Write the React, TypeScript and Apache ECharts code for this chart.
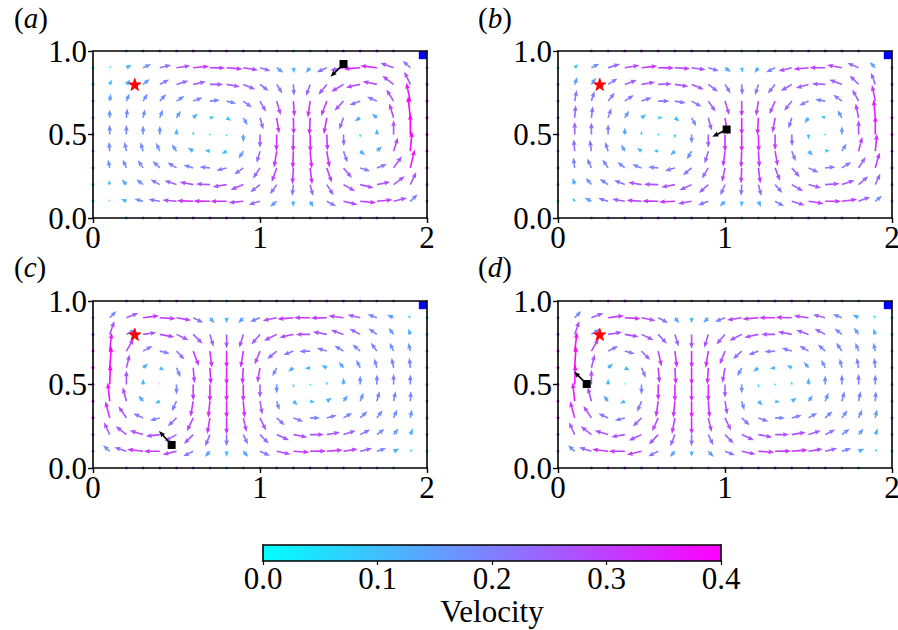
import React, { useEffect, useRef } from "react";
import * as echarts from "echarts";

const FONT = "'Liberation Serif', 'Times New Roman', serif";
const columns = [0.1, 0.2, 0.3, 0.4, 0.5, 0.6, 0.7, 0.8, 0.9, 1.0, 1.1, 1.2, 1.3, 1.4, 1.5, 1.6, 1.7, 1.8, 1.9];
const rowsY = [0.9, 0.8, 0.7, 0.6, 0.5, 0.4, 0.3, 0.2, 0.1];
const wallX = [0.2, 0.3, 0.4, 0.5, 0.6, 0.7, 0.8, 0.9, 1.0, 1.1, 1.2, 1.3, 1.4, 1.5, 1.6, 1.7, 1.8];

// Velocity components, in units of 1/155.
const READING_UNIT = 1 / 155;

const aU = [
  [6, 16, 24, 34, 42, 48, 46, 48, 44, 32, 20, 3, -13, -30, -40, -50, -50, -40, -23],
  [6, 12, 20, 28, 36, 38, 40, 40, 36, 26, 17, 2, -12, -25, -37, -43, -43, -34, -18],
  [3, 9, 14, 19, 24, 28, 30, 29, 26, 18, 12, 3, -7, -17, -27, -32, -30, -22, -12],
  [0, 3, 6, 9, 13, 14, 14, 14, 13, 10, 7, 1, -2, -9, -13, -17, -15, -13, -7],
  [0, 0, 0, 0, 0, 0, 0, 0, 0, 0, -1, -1, 1, 2, 1, 0, 0, 0, 0],
  [-2, -6, -8, -11, -14, -16, -16, -15, -14, -10, -8, -2, 5, 8, 12, 15, 15, 13, 5],
  [-5, -11, -16, -21, -27, -29, -31, -31, -27, -21, -15, -3, 6, 15, 25, 30, 30, 25, 13],
  [-3, -14, -20, -28, -36, -41, -42, -42, -38, -29, -20, -4, 9, 20, 35, 41, 40, 33, 18],
  [-4, -16, -26, -34, -42, -49, -49, -49, -44, -34, -20, -1, 10, 28, 42, 48, 47, 40, 22],
];
const aV = [
  [5, 9, 11, 8, 6, 4, -1, -4, -7, -10, -15, -17, -16, -14, -8, -4, 6, 14, 21],
  [15, 15, 16, 15, 11, 9, 0, -7, -15, -20, -27, -34, -35, -31, -22, -9, 9, 26, 39],
  [22, 23, 23, 21, 15, 11, 3, -7, -19, -32, -42, -47, -49, -45, -29, -12, 13, 35, 55],
  [25, 28, 26, 25, 21, 13, 3, -9, -22, -35, -47, -50, -52, -49, -35, -10, 13, 43, 65],
  [29, 29, 27, 26, 18, 10, 1, -7, -23, -40, -50, -52, -53, -49, -35, -10, 17, 43, 62],
  [28, 28, 27, 25, 21, 11, 3, -8, -22, -35, -49, -52, -52, -49, -34, -12, 15, 41, 60],
  [25, 25, 23, 21, 16, 9, 3, -8, -20, -32, -42, -49, -49, -44, -30, -10, 11, 35, 55],
  [14, 15, 16, 15, 12, 8, 2, -7, -16, -23, -29, -34, -34, -32, -20, -10, 8, 25, 38],
  [6, 7, 7, 6, 4, 2, 1, 0, -4, -10, -16, -17, -18, -15, -10, -4, 5, 10, 21],
];

const bU = [
  [10, 24, 36, 44, 48, 48, 46, 42, 32, 18, 3, -12, -27, -40, -45, -47, -45, -34, -17],
  [8, 14, 28, 36, 41, 41, 41, 37, 29, 17, 2, -10, -22, -33, -38, -40, -38, -27, -13],
  [6, 9, 20, 27, 31, 34, 33, 30, 22, 13, 0, -7, -17, -23, -28, -30, -26, -19, -10],
  [3, 4, 10, 13, 14, 14, 14, 14, 10, 8, 0, -3, -8, -10, -12, -13, -13, -9, -5],
  [0, 0, 0, 0, 0, 0, 0, 0, 0, 0, 0, 1, 0, 1, 0, 0, 0, 0, 0],
  [-3, -5, -9, -11, -13, -14, -14, -14, -11, -6, -2, 3, 8, 12, 13, 14, 14, 11, 5],
  [-4, -13, -17, -22, -28, -30, -30, -26, -19, -9, -2, 6, 15, 24, 30, 31, 28, 21, 13],
  [-6, -17, -25, -32, -40, -43, -41, -36, -28, -14, -2, 9, 22, 34, 38, 43, 38, 29, 15],
  [-6, -20, -30, -38, -45, -48, -48, -41, -31, -16, 0, 8, 27, 39, 46, 48, 46, 35, 20],
];
const bV = [
  [11, 12, 11, 7, 5, -1, -3, -6, -10, -13, -15, -16, -14, -10, -5, 0, 8, 14, 17],
  [22, 20, 18, 13, 7, 2, -6, -15, -22, -27, -32, -32, -27, -20, -11, 2, 14, 27, 35],
  [33, 30, 25, 18, 11, 0, -6, -17, -32, -42, -47, -45, -39, -29, -13, 5, 19, 35, 48],
  [38, 35, 29, 21, 11, 1, -10, -25, -38, -50, -52, -52, -45, -32, -16, 5, 23, 43, 55],
  [38, 36, 31, 21, 11, 1, -12, -27, -40, -52, -53, -52, -47, -35, -15, 2, 25, 43, 56],
  [36, 34, 28, 20, 10, 1, -12, -24, -37, -47, -50, -49, -45, -30, -14, 3, 23, 43, 52],
  [31, 28, 25, 18, 10, 3, -9, -22, -32, -42, -47, -47, -39, -28, -14, 3, 18, 33, 46],
  [20, 20, 17, 13, 7, 1, -8, -17, -25, -32, -34, -34, -25, -20, -10, 3, 13, 25, 33],
  [11, 11, 9, 7, 3, 1, -2, -7, -12, -15, -17, -17, -15, -12, -7, 0, 6, 13, 17],
];

const cU = [
  [20, 36, 48, 48, 44, 30, 14, 0, -15, -30, -42, -48, -48, -48, -45, -38, -28, -20, -8],
  [14, 28, 40, 44, 36, 28, 11, 0, -12, -26, -38, -42, -43, -42, -38, -32, -25, -15, -6],
  [6, 22, 28, 30, 24, 17, 6, 0, -8, -16, -28, -30, -32, -30, -27, -23, -18, -12, -6],
  [5, 10, 15, 14, 12, 4, 3, 0, -3, -8, -13, -16, -16, -16, -14, -12, -8, -6, -3],
  [2, 0, 0, 0, 0, 0, 0, 0, 0, 0, 0, 0, 0, 0, 0, 0, 0, 0, 0],
  [-6, -11, -14, -14, -14, -8, -5, 0, 4, 7, 8, 13, 15, 15, 13, 10, 8, 6, 2],
  [-13, -24, -29, -30, -26, -19, -8, 0, 10, 18, 24, 30, 30, 30, 26, 22, 17, 11, 5],
  [-17, -32, -40, -42, -36, -28, -14, 0, 14, 26, 37, 42, 42, 40, 37, 30, 23, 15, 8],
  [-20, -36, -48, -48, -42, -30, -15, 0, 15, 30, 42, 48, 48, 48, 43, 36, 28, 17, 7],
];
const cV = [
  [20, 14, 6, -3, -8, -15, -17, -17, -17, -12, -9, -4, 0, -1, 6, 9, 10, 9, 7],
  [40, 15, 6, -8, -17, -28, -37, -42, -40, -30, -19, -9, 0, 8, 13, 17, 18, 20, 18],
  [55, 38, 15, -7, -25, -45, -50, -52, -50, -40, -24, -12, -1, 9, 16, 20, 25, 25, 25],
  [65, 40, 13, -8, -28, -46, -50, -52, -50, -45, -25, -12, -2, 8, 18, 24, 28, 30, 30],
  [60, 42, 17, 6, -30, -48, -52, -52, -52, -40, -27, -10, 1, 10, 20, 27, 30, 32, 30],
  [56, 42, 17, -7, -30, -47, -50, -52, -50, -40, -27, -12, -3, 10, 18, 25, 30, 30, 30],
  [50, 35, 13, -8, -25, -40, -48, -50, -42, -38, -22, -11, 0, 8, 15, 20, 23, 25, 25],
  [37, 25, 12, -5, -20, -28, -35, -35, -30, -27, -17, -8, 0, 7, 12, 15, 17, 18, 18],
  [18, 12, 6, 0, -10, -15, -17, -17, -17, -13, -9, -3, 1, 4, 7, 9, 9, 8, 7],
];

const dU = [
  [20, 36, 48, 48, 42, 30, 13, 0, -15, -30, -44, -48, -48, -48, -44, -37, -27, -18, -7],
  [14, 26, 42, 42, 36, 26, 11, 0, -12, -26, -37, -42, -42, -42, -37, -32, -22, -14, -6],
  [7, 22, 30, 30, 26, 10, 6, 0, -8, -16, -26, -30, -32, -30, -27, -22, -17, -10, -6],
  [4, 10, 15, 15, 13, 4, 3, 0, -3, -8, -13, -16, -16, -15, -14, -12, -7, -6, -3],
  [2, 0, 0, 0, 0, 0, 0, 0, 0, 0, 0, 0, 0, 0, 0, 0, 0, 0, 0],
  [-6, -11, -14, -14, -13, -7, -5, 0, 4, 7, 8, 13, 15, 15, 13, 10, 8, 6, 2],
  [-14, -24, -29, -30, -26, -18, -9, 0, 10, 18, 24, 30, 30, 30, 26, 22, 17, 11, 5],
  [-17, -32, -40, -41, -38, -28, -14, 0, 15, 26, 37, 42, 42, 42, 37, 30, 23, 15, 8],
  [-20, -37, -48, -48, -44, -30, -15, 0, 16, 30, 42, 48, 48, 48, 43, 36, 28, 17, 7],
];
const dV = [
  [20, 14, 6, -3, -9, -16, -17, -17, -16, -12, -7, -4, 0, 1, 6, 9, 10, 9, 7],
  [40, 16, 7, -7, -17, -28, -36, -43, -40, -30, -19, -9, 0, 8, 13, 17, 18, 20, 18],
  [57, 38, 15, -8, -27, -46, -50, -52, -50, -40, -24, -12, -2, 9, 16, 20, 25, 25, 25],
  [65, 40, 13, -8, -30, -46, -50, -52, -50, -45, -25, -12, -2, 8, 18, 24, 28, 30, 30],
  [60, 44, 17, 6, -30, -48, -52, -52, -52, -40, -27, -10, 1, 10, 20, 27, 30, 32, 30],
  [56, 42, 17, -8, -32, -48, -50, -52, -50, -40, -27, -13, -3, 10, 18, 25, 30, 30, 30],
  [50, 36, 13, -8, -26, -40, -48, -50, -42, -38, -22, -11, 0, 8, 15, 20, 23, 25, 25],
  [37, 25, 12, -7, -18, -30, -35, -35, -32, -27, -17, -8, 0, 7, 12, 15, 17, 18, 18],
  [18, 12, 6, 0, -10, -15, -17, -17, -17, -12, -9, -3, 1, 4, 7, 9, 9, 8, 7],
];

const panelNames = ["a", "b", "c", "d"];
const panelU = [aU, bU, cU, dU];
const panelV = [aV, bV, cV, dV];
const tracerX = [1.5, 1.01, 0.471, 0.172];
const tracerY = [0.922, 0.53, 0.138, 0.503];
const tracerU = [-39, -43, -38, -38];
const tracerV = [-38, -22, 42, 37];
const starPoint = [0.25, 0.8];
const bluePoint = [1.975, 0.975];
const colorbarTicks = [0, 0.1, 0.2, 0.3, 0.4];
const xTicks = [0, 1, 2];
const yTicks = [0, 0.5, 1];

const gridBoxes = [
  { left: 93, top: 51 },
  { left: 558, top: 51 },
  { left: 93, top: 301 },
  { left: 558, top: 301 },
];
const labelBoxes = [
  { left: 9, top: -2 },
  { left: 473, top: -2 },
  { left: 9, top: 247 },
  { left: 473, top: 247 },
];
const STAR = "path://M50 0 L61.8 35 L98 35 L68.8 57 L79.5 92 L50 71 L20.5 92 L31.2 57 L2 35 L38.2 35 Z";
const TICK_FONT = 31;

const coolColor = (speed: number) => {
  const t = Math.max(0, Math.min(1, speed / 0.4));
  return `rgb(${Math.round(255 * t)},${Math.round(255 * (1 - t))},255)`;
};

const arrowPoints = (x: number, y: number, dx: number, dy: number, W: number) => {
  const L = Math.hypot(dx, dy);
  const hl0 = 3.8 * W;
  const k = L < hl0 ? L / hl0 : 1;
  const w = W * k;
  const hl = hl0 * k;
  const ha = 3.4 * W * k;
  const hw = 3 * W * k;
  const c = dx / (L || 1);
  const s = dy / (L || 1);
  const local = [
    [0, w / 2],
    [L - ha, w / 2],
    [L - hl, hw / 2],
    [L, 0],
    [L - hl, -hw / 2],
    [L - ha, -w / 2],
    [0, -w / 2],
  ];
  return local.map(([a, b]) => [x + a * c - b * s, y + a * s + b * c]);
};

const renderArrow = (_: any, api: any) => {
  const p = api.coord([api.value(0), api.value(1)]);
  const u = api.value(2);
  const v = api.value(3);
  const speed = Math.hypot(u, v) * READING_UNIT;
  const L = Math.hypot(u, v) / 3;
  if (L < 0.9) {
    return { type: "circle", shape: { cx: p[0], cy: p[1], r: 0.8 }, style: { fill: coolColor(speed) } };
  }
  return {
    type: "polygon",
    shape: { points: arrowPoints(p[0], p[1], u / 3, -v / 3, 1.6) },
    style: { fill: coolColor(speed) },
  };
};

const renderWallDot = (_: any, api: any) => {
  const p = api.coord([api.value(0), api.value(1)]);
  return {
    type: "circle",
    shape: { cx: p[0], cy: p[1], r: 1.5 },
    style: { fill: coolColor(api.value(2) * READING_UNIT) },
  };
};

const renderTracerArrow = (_: any, api: any) => {
  const p = api.coord([api.value(0), api.value(1)]);
  return {
    type: "polygon",
    shape: { points: arrowPoints(p[0], p[1], api.value(2) / 3, -api.value(3) / 3, 1.7) },
    style: { fill: "#000" },
  };
};

const renderColorbar = (_: any, api: any) => {
  const a = api.coord([api.value(0), 0]);
  const b = api.coord([api.value(1), 1]);
  return {
    type: "rect",
    shape: { x: a[0], y: b[1], width: b[0] - a[0], height: a[1] - b[1] },
    style: {
      fill: new echarts.graphic.LinearGradient(0, 0, 1, 0, [
        { offset: 0, color: coolColor(0) },
        { offset: 1, color: coolColor(0.4) },
      ]),
    },
  };
};

function buildOption() {
  const grid: any[] = [];
  const xAxis: any[] = [];
  const yAxis: any[] = [];
  const series: any[] = [];
  const title: any[] = [];
  const line = { show: true, onZero: false, lineStyle: { color: "#000", width: 1.6 } };
  const label = { color: "#000", fontFamily: FONT, fontSize: TICK_FONT };

  panelNames.forEach((name, i) => {
    grid.push({ left: gridBoxes[i].left, top: gridBoxes[i].top, width: 334, height: 167, outerBoundsMode: "none" });
    title.push({
      text: `{p|(}{i|${name}}{p|)}`,
      left: labelBoxes[i].left,
      top: labelBoxes[i].top,
      textStyle: {
        fontWeight: "normal",
        rich: {
          p: { fontFamily: FONT, fontSize: 29, fontWeight: "normal", color: "#000" },
          i: { fontFamily: FONT, fontSize: 29, fontWeight: "normal", fontStyle: "italic", color: "#000" },
        },
      },
    });
    const xi = xAxis.length;
    const yi = yAxis.length;
    xAxis.push({
      gridIndex: i, type: "value", min: 0, max: 2, interval: 1, z: 5, position: "bottom",
      axisLine: line, axisTick: { show: true, length: 5, lineStyle: { color: "#000", width: 1.4 } },
      axisLabel: { ...label, margin: 4, formatter: (v: number) => (xTicks.includes(v) ? String(v) : "") },
      splitLine: { show: false },
    });
    xAxis.push({
      gridIndex: i, type: "value", min: 0, max: 2, interval: 1, z: 5, position: "top",
      axisLine: line, axisTick: { show: false }, axisLabel: { show: false }, splitLine: { show: false },
    });
    yAxis.push({
      gridIndex: i, type: "value", min: 0, max: 1, interval: 0.5, z: 5, position: "left",
      axisLine: line, axisTick: { show: true, length: 5, lineStyle: { color: "#000", width: 1.4 } },
      axisLabel: { ...label, margin: 6, formatter: (v: number) => (yTicks.includes(v) ? v.toFixed(1) : "") },
      splitLine: { show: false },
    });
    yAxis.push({
      gridIndex: i, type: "value", min: 0, max: 1, interval: 0.5, z: 5, position: "right",
      axisLine: line, axisTick: { show: false }, axisLabel: { show: false }, splitLine: { show: false },
    });

    const U = panelU[i];
    const V = panelV[i];
    const arrows: number[][] = [];
    rowsY.forEach((y, r) => columns.forEach((x, c) => arrows.push([x, y, U[r][c], V[r][c]])));

    // Short wall marks, coloured like the arrow next to them.
    const wall: number[][] = [];
    const sp = (r: number, c: number) => Math.hypot(U[r][c], V[r][c]);
    wallX.forEach((x) => {
      const c = columns.indexOf(x);
      wall.push([x, 1, sp(0, c)]);
      wall.push([x, 0, sp(8, c)]);
    });
    rowsY.forEach((y, r) => {
      wall.push([0, y, sp(r, 0)]);
      wall.push([2, y, sp(r, 18)]);
    });

    const axes = { xAxisIndex: xi, yAxisIndex: yi };
    series.push({
      type: "custom", ...axes, name: `wall ${name}`, z: 1, clip: false, silent: true,
      coordinateSystem: "cartesian2d", renderItem: renderWallDot, data: wall,
      encode: { x: 0, y: 1 },
    });
    series.push({
      type: "custom", ...axes, name: `velocity ${name}`, z: 2, silent: true,
      coordinateSystem: "cartesian2d", renderItem: renderArrow, data: arrows,
      encode: { x: 0, y: 1 },
    });
    series.push({
      type: "scatter", ...axes, z: 3, silent: true, symbol: "rect", symbolSize: 8,
      itemStyle: { color: "#0000ff", opacity: 1 }, data: [bluePoint],
    });
    series.push({
      type: "custom", ...axes, z: 8, silent: true, coordinateSystem: "cartesian2d",
      renderItem: renderTracerArrow, encode: { x: 0, y: 1 },
      data: [[tracerX[i], tracerY[i], tracerU[i], tracerV[i]]],
    });
    series.push({
      type: "scatter", ...axes, z: 9, silent: true, symbol: "rect", symbolSize: 8,
      itemStyle: { color: "#000", opacity: 1 }, data: [[tracerX[i], tracerY[i]]],
    });
    series.push({
      type: "scatter", ...axes, z: 9, silent: true, symbol: STAR, symbolSize: 12,
      itemStyle: { color: "#ff0000", opacity: 1, borderColor: "#ff0000", borderWidth: 1 }, data: [starPoint],
    });
  });

  // colour bar
  grid.push({ left: 263, top: 545, width: 458, height: 16, outerBoundsMode: "none" });
  const cx = xAxis.length;
  const cy = yAxis.length;
  xAxis.push({
    gridIndex: 4, type: "value", min: 0, max: 0.4, interval: 0.1, z: 5, position: "bottom",
    name: "Velocity", nameLocation: "middle", nameGap: 35,
    nameTextStyle: { color: "#000", fontFamily: FONT, fontSize: TICK_FONT },
    axisLine: line, axisTick: { show: true, length: 4, lineStyle: { color: "#000", width: 1.2 } },
    axisLabel: {
      ...label, margin: 2, showMinLabel: true, showMaxLabel: true,
      formatter: (v: number) => {
        const m = colorbarTicks.find((t) => Math.abs(t - v) < 1e-6);
        return m === undefined ? "" : m.toFixed(1);
      },
    },
    splitLine: { show: false },
  });
  xAxis.push({
    gridIndex: 4, type: "value", min: 0, max: 0.4, interval: 0.1, z: 5, position: "top",
    axisLine: line, axisTick: { show: false }, axisLabel: { show: false }, splitLine: { show: false },
  });
  yAxis.push({
    gridIndex: 4, type: "value", min: 0, max: 1, z: 5, position: "left",
    axisLine: line, axisTick: { show: false }, axisLabel: { show: false }, splitLine: { show: false },
  });
  yAxis.push({
    gridIndex: 4, type: "value", min: 0, max: 1, z: 5, position: "right",
    axisLine: line, axisTick: { show: false }, axisLabel: { show: false }, splitLine: { show: false },
  });
  series.push({
    type: "custom", xAxisIndex: cx, yAxisIndex: cy, z: 1, silent: true,
    coordinateSystem: "cartesian2d", renderItem: renderColorbar, data: [[0, 0.4]],
    encode: { x: [0, 1] },
  });

  return { animation: false, backgroundColor: "#fff", title, grid, xAxis, yAxis, series, tooltip: { show: false } };
}

export default function App() {
  const ref = useRef<HTMLDivElement>(null);
  useEffect(() => {
    const chart = echarts.init(ref.current!, undefined, { renderer: "svg" });
    chart.setOption(buildOption() as any);
    return () => chart.dispose();
  }, []);
  return <div ref={ref} style={{ position: "absolute", left: 0, top: 0, width: 898, height: 630 }} />;
}
